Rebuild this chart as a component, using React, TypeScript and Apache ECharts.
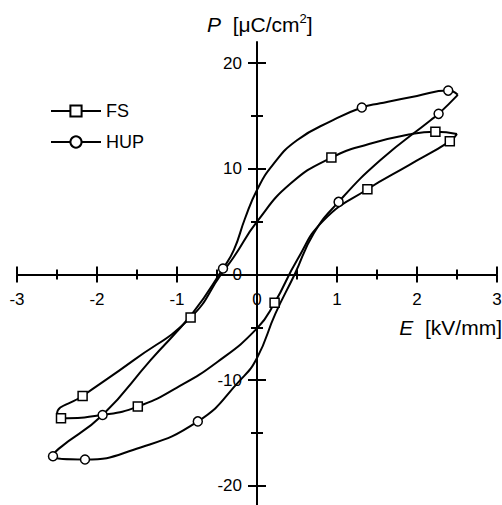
import { useEffect, useRef } from 'react';
import * as echarts from 'echarts';

// HUP sample: polarisation loop, E in kV/mm and P in µC/cm², traced once round the loop
const hupE = [2.51, 2.39, 2.0, 1.54, 1.31, 0.95, 0.5, 0.2, 0.0, -0.15, -0.29, -0.425, -0.8, -1.33, -1.93, -2.48, -2.55, -2.15, -1.55, -0.74, -0.21, 0.0, 0.23, 0.47, 0.71, 1.02, 1.54, 2.17, 2.27, 2.51];
const hupP = [17.0, 17.4, 16.9, 16.2, 15.8, 14.6, 12.7, 10.4, 8.0, 5.3, 2.3, 0.57, -3.6, -8.1, -13.3, -16.5, -17.2, -17.5, -16.6, -13.9, -10.0, -7.9, -3.7, 0.0, 3.9, 6.87, 10.8, 14.6, 15.2, 17.0];
const hupMarks = [1, 4, 11, 14, 16, 17, 19, 25, 28];

// FS sample
const fsE = [2.5, 2.23, 1.92, 1.4, 0.93, 0.42, 0.0, -0.29, -0.45, -0.83, -1.54, -2.18, -2.5, -2.45, -1.94, -1.49, -1.0, -0.5, 0.0, 0.22, 0.5, 0.83, 1.38, 1.9, 2.41, 2.5];
const fsP = [13.3, 13.5, 13.27, 12.35, 11.06, 8.6, 5.0, 1.66, 0.0, -4.07, -8.1, -11.5, -13.2, -13.6, -13.3, -12.5, -10.7, -8.3, -5.1, -2.68, 1.35, 5.1, 8.07, 10.35, 12.6, 13.3];
const fsMarks = [1, 4, 9, 11, 13, 15, 19, 22, 24];

const yMajorTicks = [-20, -10, 0, 10, 20];
const yMinorTicks = [-15, -5, 5, 15];

const FONT = '"Liberation Sans", Arial, sans-serif';

// plot box; both ranges are symmetric, so the crossing axes sit half a box in from each edge
const GRID = { left: 17, top: 42, width: 480, height: 465 };
const X_SHIFT = -GRID.height / 2;
const Y_SHIFT = -GRID.width / 2;

export default function App() {
  const ref = useRef<HTMLDivElement>(null);

  useEffect(() => {
    const chart = echarts.init(ref.current!, null, { renderer: 'svg' });

    const loop = (name: string, es: number[], ps: number[], marks: number[], symbol: string) => ({
      name,
      type: 'line',
      smooth: 0.5,
      symbol,
      symbolSize: 9,
      showAllSymbol: true,
      data: es.map((e, i) => ({ value: [e, ps[i]], symbol: marks.includes(i) ? symbol : 'none' })),
      lineStyle: { color: '#000', width: 2 },
      itemStyle: { color: '#fff', borderColor: '#000', borderWidth: 1.5 },
      emphasis: { disabled: true },
      clip: false,
      z: 3,
    });

    const tickStyle = { color: '#000', width: 2 };

    const xAxis = (position: string, labels: boolean) => ({
      type: 'value',
      min: -3,
      max: 3,
      interval: 1,
      position,
      offset: X_SHIFT,
      axisLine: { show: labels, onZero: false, lineStyle: { color: '#000', width: 2 } },
      axisTick: { show: true, inside: false, length: 8, lineStyle: tickStyle },
      minorTick: { show: true, splitNumber: 2, length: 5, lineStyle: tickStyle },
      axisLabel: {
        show: labels,
        margin: 16,
        color: '#000',
        fontSize: 17,
        fontFamily: FONT,
      },
      splitLine: { show: false },
      minorSplitLine: { show: false },
    });

    const yAxis = (position: string, ticks: number[], length: number, labels: boolean) => ({
      type: 'value',
      min: -22,
      max: 22,
      position,
      offset: Y_SHIFT,
      axisLine: { show: labels, onZero: false, lineStyle: { color: '#000', width: 2 } },
      axisTick: {
        show: true,
        inside: false,
        length,
        customValues: ticks,
        lineStyle: tickStyle,
      },
      axisLabel: {
        show: labels,
        customValues: ticks,
        margin: 15,
        color: '#000',
        fontSize: 17,
        fontFamily: FONT,
      },
      splitLine: { show: false },
    });

    chart.setOption({
      animation: false,
      backgroundColor: '#fff',
      grid: { ...GRID, containLabel: false, outerBoundsMode: 'none' },
      xAxis: [xAxis('bottom', true), xAxis('top', false)],
      yAxis: [
        yAxis('left', yMajorTicks, 9, true),
        yAxis('right', yMajorTicks, 9, false),
        yAxis('left', yMinorTicks, 6, false),
        yAxis('right', yMinorTicks, 6, false),
      ],
      legend: {
        orient: 'vertical',
        left: 50,
        top: 102,
        padding: 0,
        itemWidth: 50,
        itemHeight: 14,
        itemGap: 13,
        textStyle: { color: '#000', fontSize: 18, fontFamily: FONT },
        data: ['FS', 'HUP'],
        selectedMode: false,
      },
      graphic: [
        {
          type: 'text',
          x: 207,
          y: 24,
          style: {
            text: '{i|P}  [μC/cm{s|2}]',
            fill: '#000',
            font: `21px ${FONT}`,
            verticalAlign: 'middle',
            align: 'left',
            rich: {
              i: { fontStyle: 'italic', fontSize: 21, fontFamily: FONT, lineHeight: 24 },
              s: { fontSize: 13, fontFamily: FONT, verticalAlign: 'top', lineHeight: 24 },
            },
          },
        },
        {
          type: 'text',
          x: 502,
          y: 327,
          style: {
            text: '{i|E}  [kV/mm]',
            fill: '#000',
            font: `21px ${FONT}`,
            verticalAlign: 'middle',
            align: 'right',
            rich: {
              i: { fontStyle: 'italic', fontSize: 21, fontFamily: FONT },
            },
          },
        },
      ],
      series: [
        loop('FS', fsE, fsP, fsMarks, 'rect'),
        loop('HUP', hupE, hupP, hupMarks, 'circle'),
      ],
    });

    return () => chart.dispose();
  }, []);

  return (
    <div
      ref={ref}
      style={{ position: 'fixed', left: 0, top: 0, width: 502, height: 505, background: '#fff' }}
    />
  );
}
